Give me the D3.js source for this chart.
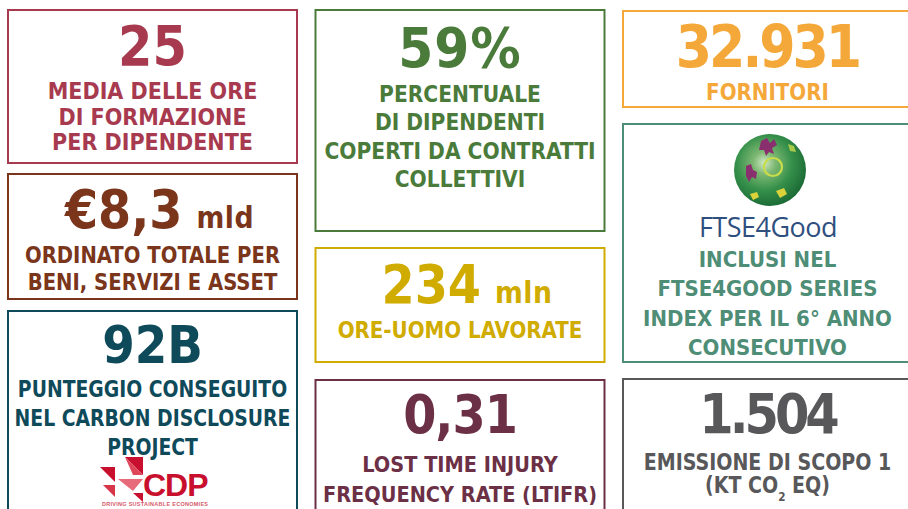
<!DOCTYPE html>
<html>
<head>
<meta charset="utf-8">
<script src="https://cdn.jsdelivr.net/npm/d3@7"></script>
<style>
  html, body { margin: 0; padding: 0; background: #fff; }
  svg { display: block; }
</style>
</head>
<body>
<div id="chart-container"></div>
<script>
// KPI values and their texts
const kpiValues = ['25', '€8,3', '92B', '59%', '234', '0,31', '32.931', '', '1.504'];
const kpiUnits = ['', 'mld', '', '', 'mln', '', '', '', ''];
const kpiLabels = [
  ['MEDIA DELLE ORE', 'DI FORMAZIONE', 'PER DIPENDENTE'],
  ['ORDINATO TOTALE PER', 'BENI, SERVIZI E ASSET'],
  ['PUNTEGGIO CONSEGUITO', 'NEL CARBON DISCLOSURE', 'PROJECT'],
  ['PERCENTUALE', 'DI DIPENDENTI', 'COPERTI DA CONTRATTI', 'COLLETTIVI'],
  ['ORE-UOMO LAVORATE'],
  ['LOST TIME INJURY', 'FREQUENCY RATE (LTIFR)'],
  ['FORNITORI'],
  ['INCLUSI NEL', 'FTSE4GOOD SERIES', 'INDEX PER IL 6° ANNO', 'CONSECUTIVO'],
  ['EMISSIONE DI SCOPO 1', '(KT CO2 EQ)']
];
const logoTexts = ['FTSE4Good', 'CDP', 'DRIVING SUSTAINABLE ECONOMIES'];

// layout of the tiles (column, top, bottom) and their styles
const tileCols = [0, 0, 0, 1, 1, 1, 2, 2, 2];
const tileTops = [9, 173, 310, 9, 247, 379, 10, 123, 378];
const tileBottoms = [164, 300, 530, 232, 363, 530, 108, 363, 530];
const tileColors = ['#a83a4f', '#7a351b', '#0f4a5b', '#4a7b3a', '#d0ab00', '#6c3046', '#f5a83a', '#4e8d76', '#58585a'];
const numOffsets = [56, 55, 53, 58, 56, 54, 57, 0, 55];
const numSizes = [55, 53, 52, 56, 53, 53, 58, 0, 55];
const numSpacing = [0, 0, 0, 1, 0, -1, -3, 0, -4];
const labelOffsets = [90, 90, 87, 93, 91, 93, 90, 144, 92];
const labelSteps = [25.5, 27, 29, 28.3, 0, 30, 0, 29.3, 23];
const labelSizes = [23, 23, 23.5, 22.5, 22.5, 21.5, 23, 22, 22.5];
const labelScaleX = [1, 0.95, 0.89, 1, 0.98, 1, 0.96, 1, 0.94];

const width = 908;
const height = 509;
const numFont = '"DejaVu Sans Condensed", "DejaVu Sans", sans-serif';
const labelFont = '"DejaVu Sans Condensed", "DejaVu Sans", sans-serif';

const svg = d3
  .create('svg')
  .attr('width', width)
  .attr('height', height)
  .attr('viewBox', [0, 0, width, height]);

// attach early so text can be measured
document.getElementById('chart-container').appendChild(svg.node());

const x = d3.scaleLinear().domain([0, 1]).range([7, 314.5]);
const tileWidth = 291;

const defs = svg.append('defs');
const grad = defs.append('radialGradient')
  .attr('id', 'globe')
  .attr('cx', '42%').attr('cy', '40%').attr('r', '62%');
grad.append('stop').attr('offset', '0%').attr('stop-color', '#cfe8c4');
grad.append('stop').attr('offset', '25%').attr('stop-color', '#7db873');
grad.append('stop').attr('offset', '62%').attr('stop-color', '#35904a');
grad.append('stop').attr('offset', '100%').attr('stop-color', '#1b6a35');

const tiles = d3.range(kpiValues.length);

const tile = svg.selectAll('g.tile')
  .data(tiles)
  .join('g')
  .attr('class', 'tile');

tile.append('rect')
  .attr('x', (i) => x(tileCols[i]) + 1)
  .attr('y', (i) => tileTops[i] + 1)
  .attr('width', tileWidth - 2)
  .attr('height', (i) => tileBottoms[i] - tileTops[i] - 2)
  .attr('fill', '#fff')
  .attr('stroke', (i) => tileColors[i])
  .attr('stroke-width', 2);

// big numbers (with optional unit)
tile.each(function (i) {
  if (!kpiValues[i]) return;
  const g = d3.select(this);
  const cx = x(tileCols[i]) + tileWidth / 2;
  const t = g.append('text')
    .attr('y', tileTops[i] + numOffsets[i])
    .attr('fill', tileColors[i])
    .attr('font-family', numFont)
    .attr('font-weight', 'bold')
    .attr('font-size', numSizes[i])
    .attr('letter-spacing', numSpacing[i]);
  t.append('tspan').text(kpiValues[i]);
  if (kpiUnits[i]) {
    t.append('tspan')
      .attr('dx', 14)
      .attr('font-size', numSizes[i] * 0.56)
      .attr('letter-spacing', 0.5)
      .text(kpiUnits[i]);
  }
  const w = t.node().getComputedTextLength();
  t.attr('x', cx - w / 2);
});

// labels, squeezed a little to the width of the original lettering
tile.each(function (i) {
  const g = d3.select(this);
  const cx = x(tileCols[i]) + tileWidth / 2;
  g.selectAll('text.label')
    .data(kpiLabels[i])
    .join('text')
    .attr('class', 'label')
    .attr('transform', (d, j) =>
      `translate(${cx},${tileTops[i] + labelOffsets[i] + j * labelSteps[i]}) scale(${labelScaleX[i]},1)`)
    .attr('text-anchor', 'middle')
    .attr('fill', tileColors[i])
    .attr('font-family', labelFont)
    .attr('font-weight', 'bold')
    .attr('font-size', labelSizes[i])
    .each(function (d) {
      const el = d3.select(this);
      if (d.includes('CO2')) {
        const [a, b] = d.split('CO2');
        el.append('tspan').text(a + 'CO');
        el.append('tspan').attr('dy', 8).attr('font-size', labelSizes[i] * 0.55).text('2');
        el.append('tspan').attr('dy', -8).text(' ' + b.trim());
      } else {
        el.text(d);
      }
    });
});

// FTSE4Good logo
const ftse = svg.append('g');
const gx = 770, gy = 170, gr = 36;
ftse.append('circle').attr('cx', gx).attr('cy', gy).attr('r', gr).attr('fill', 'url(#globe)');
const purple = '#8a2f6e', yellow = '#d9d23a';
ftse.append('path').attr('fill', purple)
  .attr('d', `M${gx - 9},${gy - 29} l6,-3 l3,5 l4,-4 l3,6 l-5,3 l2,6 l-5,-2 l-3,4 l-2,-6 l-5,0 z`);
ftse.append('path').attr('fill', purple)
  .attr('d', `M${gx - 24},${gy - 4} l5,-2 l2,6 l4,2 l-1,7 l-4,-2 l-3,5 l-3,-6 z`);
ftse.append('circle').attr('cx', gx + 3).attr('cy', gy - 3).attr('r', 9)
  .attr('fill', 'none').attr('stroke', '#c9dc4a').attr('stroke-width', 2.2);
ftse.append('path').attr('fill', yellow)
  .attr('d', `M${gx + 6},${gy + 21} l8,-3 l3,6 l-7,4 z`);
ftse.append('path').attr('fill', yellow)
  .attr('d', `M${gx - 20},${gy + 24} l7,-2 l2,5 l-6,3 z`);
ftse.append('path').attr('fill', '#a9c94a')
  .attr('d', `M${gx + 18},${gy - 26} l6,2 l2,6 l-6,-1 z`);
ftse.append('text')
  .attr('x', 768)
  .attr('y', 237)
  .attr('text-anchor', 'middle')
  .attr('fill', '#2f4f7f')
  .attr('font-family', '"Open Sans", "Noto Sans", sans-serif')
  .attr('font-size', 27)
  .attr('letter-spacing', -0.5)
  .text(logoTexts[0]);

// CDP logo
const cdp = svg.append('g').attr('transform', 'translate(100,457)');
const cdpRed = '#c8102e';
const tris = [
  [[25, 0], [43, 0], [43, 18], cdpRed],
  [[25, 0], [43, 18], [33, 18], '#e0465a'],
  [[0, 10], [15, 10], [15, 25], cdpRed],
  [[3, 28], [15, 28], [15, 40], '#d8344a'],
  [[18, 22], [43, 22], [33, 34], '#e86b7a'],
  [[33, 36], [43, 36], [43, 45], cdpRed]
];
cdp.selectAll('path')
  .data(tris)
  .join('path')
  .attr('d', (d) => `M${d[0]}L${d[1]}L${d[2]}Z`)
  .attr('fill', (d) => d[3]);
cdp.append('text')
  .attr('x', 43)
  .attr('y', 39)
  .attr('fill', cdpRed)
  .attr('font-family', '"Liberation Sans", Arial, sans-serif')
  .attr('font-weight', 'bold')
  .attr('font-size', 32)
  .attr('letter-spacing', -1)
  .text(logoTexts[1]);
cdp.append('text')
  .attr('x', 2)
  .attr('y', 49)
  .attr('fill', '#d65a6a')
  .attr('font-family', '"Liberation Sans", Arial, sans-serif')
  .attr('font-weight', 'bold')
  .attr('font-size', 5.5)
  .attr('textLength', 106)
  .text(logoTexts[2]);
</script>
</body>
</html>
